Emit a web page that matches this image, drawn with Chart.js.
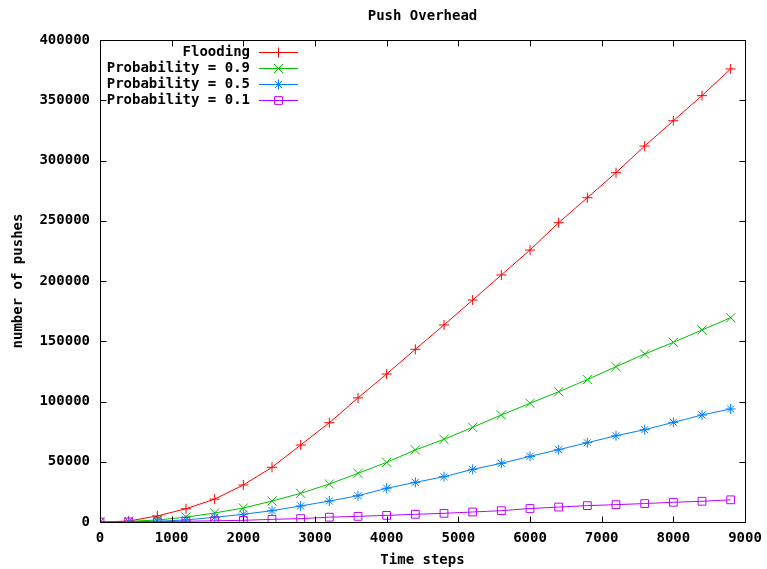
<!DOCTYPE html>
<html>
<head>
<meta charset="utf-8">
<style>
  body { margin: 0; background: #fff; }
  #wrap { width: 767px; height: 569px; }
</style>
<script src="https://cdn.jsdelivr.net/npm/chart.js@4/dist/chart.umd.min.js"></script>
</head>
<body>
<div id="wrap"><canvas id="push-overhead" width="767" height="569"></canvas></div>
<script>
// time steps (x)
var steps = [0, 400, 800, 1200, 1600, 2000, 2400, 2800, 3200, 3600, 4000, 4400,
             4800, 5200, 5600, 6000, 6400, 6800, 7200, 7600, 8000, 8400, 8800];

// number of pushes per series
var flooding = [0, 800, 5000, 11000, 19000, 30700, 45400, 63900, 82400, 103000, 122800, 143300,
                163500, 184200, 205000, 225700, 248400, 269100, 289900, 312000, 333000, 353800, 376000];
var prob09 = [0, 500, 1700, 4000, 7500, 11600, 17400, 23800, 31500, 40400, 49500, 59800,
              68600, 78600, 88800, 98500, 108100, 118200, 128900, 139400, 149100, 159300, 169500];
var prob05 = [0, 200, 600, 1700, 3900, 6400, 9400, 13300, 17400, 21800, 28000, 32900,
              37600, 43700, 48700, 54500, 60000, 65800, 71600, 76600, 82700, 88800, 93800];
var prob01 = [0, 100, 300, 600, 1000, 1400, 2200, 2800, 4000, 4700, 5500, 6400,
              7200, 8300, 9400, 11200, 12400, 13600, 14400, 15300, 16400, 17200, 18400];

var seriesNames = ['Flooding', 'Probability = 0.9', 'Probability = 0.5', 'Probability = 0.1'];
var seriesColors = ['rgb(255, 0, 0)', 'rgb(0, 192, 0)', 'rgb(0, 128, 255)', 'rgb(192, 0, 255)'];
var seriesMarks = ['cross', 'crossRot', 'star', 'rect'];
var markSizes = [5, 6.5, 5, 5.5];
var chartTitle = 'Push Overhead';
var xTitle = 'Time steps';
var yTitle = 'number of pushes';

var FONT = "'DejaVu Sans Mono', monospace";

function pts(ys) {
    return steps.map(function (s, i) { return { x: s, y: ys[i] }; });
}

// gnuplot style: box border, inward ticks, title and legend drawn by hand
var gnuplotBox = {
    id: 'gnuplotBox',
    afterDraw: function (chart) {
        var ctx = chart.ctx;
        var a = chart.chartArea;
        var xs = chart.scales.x, ys = chart.scales.y;
        var L = Math.round(a.left) + 0.5, R = Math.round(a.right) + 0.5;
        var T = Math.round(a.top) + 0.5, B = Math.round(a.bottom) + 0.5;
        ctx.save();
        ctx.strokeStyle = '#000';
        ctx.lineWidth = 1;
        ctx.strokeRect(L, T, R - L, B - T);
        ctx.beginPath();
        xs.ticks.forEach(function (t) {
            var px = Math.round(xs.getPixelForValue(t.value)) + 0.5;
            ctx.moveTo(px, B); ctx.lineTo(px, B - 6);
            ctx.moveTo(px, T); ctx.lineTo(px, T + 6);
        });
        ys.ticks.forEach(function (t) {
            var py = Math.round(ys.getPixelForValue(t.value)) + 0.5;
            ctx.moveTo(L, py); ctx.lineTo(L + 6, py);
            ctx.moveTo(R, py); ctx.lineTo(R - 6, py);
        });
        ctx.stroke();

        // title
        ctx.fillStyle = '#000';
        ctx.font = 'bold 14px ' + FONT;
        ctx.textAlign = 'center';
        ctx.textBaseline = 'middle';
        ctx.fillText(chartTitle, (a.left + a.right) / 2, 16);

        // legend (text left, sample right)
        ctx.textAlign = 'right';
        seriesNames.forEach(function (name, i) {
            var y = 52 + i * 16;
            ctx.fillStyle = '#000';
            ctx.fillText(name, 250, y);
            ctx.strokeStyle = seriesColors[i];
            ctx.lineWidth = 1;
            ctx.beginPath();
            ctx.moveTo(259, y + 0.5); ctx.lineTo(298, y + 0.5);
            ctx.stroke();
            ctx.strokeStyle = seriesColors[i];
            ctx.fillStyle = 'rgba(0,0,0,0)';
            Chart.helpers.drawPoint(ctx, {
                pointStyle: seriesMarks[i], radius: markSizes[i],
                rotation: 0, borderWidth: 1
            }, 278.5, y + 0.5);
        });
        ctx.restore();
    }
};

function makeSet(i, ys, order) {
    return {
        label: seriesNames[i],
        data: pts(ys),
        borderColor: seriesColors[i],
        pointBorderColor: seriesColors[i],
        pointStyle: seriesMarks[i],
        pointRadius: markSizes[i],
        order: order
    };
}

var ctx = document.getElementById('push-overhead').getContext('2d');
var myChart = new Chart(ctx, {
    type: 'line',
    data: {
        datasets: [
            makeSet(0, flooding, 3),
            makeSet(1, prob09, 2),
            makeSet(2, prob05, 1),
            makeSet(3, prob01, 0)
        ]
    },
    options: {
        responsive: false,
        animation: false,
        layout: { padding: { top: 40, right: 22, left: 0, bottom: 0 } },
        elements: {
            line: { borderWidth: 1, tension: 0, fill: false },
            point: { borderWidth: 1, backgroundColor: 'rgba(0,0,0,0)', hoverRadius: 5 }
        },
        plugins: {
            legend: { display: false },
            title: { display: false },
            tooltip: { enabled: false }
        },
        scales: {
            x: {
                type: 'linear',
                min: 0,
                max: 9000,
                afterFit: function (s) { s.height = 47; s.paddingLeft = 0; s.paddingRight = 0; },
                ticks: {
                    stepSize: 1000,
                    padding: 8,
                    color: '#000',
                    maxRotation: 0,
                    font: { family: FONT, size: 14, weight: 'bold' },
                    callback: function (v) { return String(v); }
                },
                grid: { display: false, drawTicks: false },
                border: { display: false },
                title: {
                    display: true,
                    text: xTitle,
                    color: '#000',
                    padding: { top: 1, bottom: 0 },
                    font: { family: FONT, size: 14, weight: 'bold' }
                }
            },
            y: {
                min: 0,
                max: 400000,
                afterFit: function (s) { s.width = 100; s.paddingTop = 0; s.paddingBottom = 0; },
                ticks: {
                    stepSize: 50000,
                    padding: 10,
                    color: '#000',
                    font: { family: FONT, size: 14, weight: 'bold' },
                    callback: function (v) { return String(v); }
                },
                grid: { display: false, drawTicks: false },
                border: { display: false },
                title: {
                    display: true,
                    text: yTitle,
                    color: '#000',
                    padding: { top: 10, bottom: 0 },
                    font: { family: FONT, size: 14, weight: 'bold' }
                }
            }
        }
    },
    plugins: [gnuplotBox]
});
</script>
</body>
</html>
